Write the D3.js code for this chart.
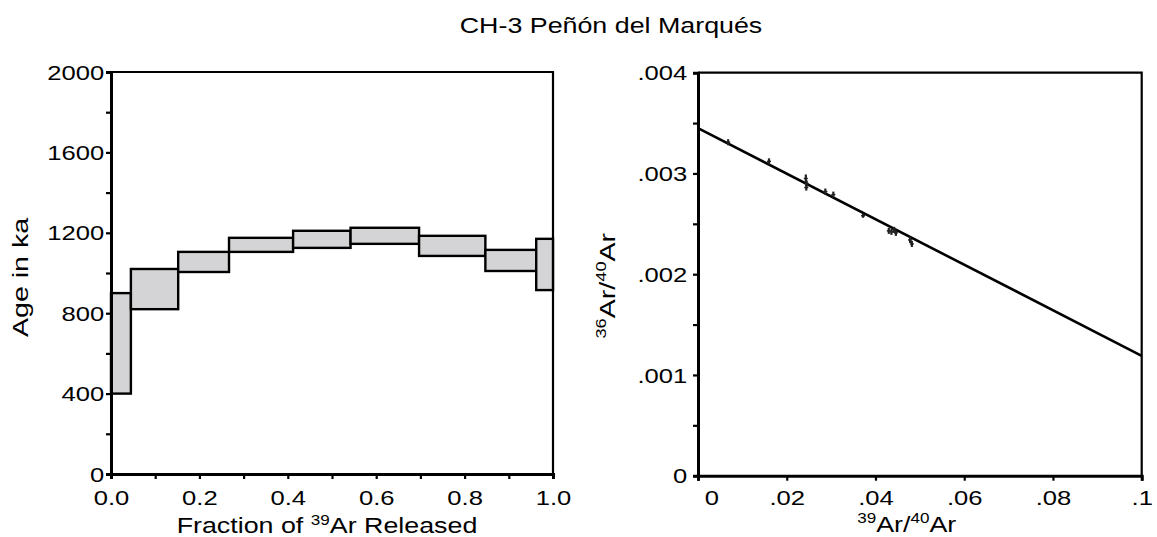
<!DOCTYPE html>
<html>
<head>
<meta charset="utf-8">
<script src="https://cdn.jsdelivr.net/npm/d3@7"></script>
<style>
  body { margin: 0; background: #fff; }
  svg text { font-family: "Liberation Sans", Arial, sans-serif; fill: #000; }
</style>
</head>
<body>
<div id="chart"></div>
<script>
// step-heating spectrum: fraction of 39Ar released (start, end), age (low, high) in ka
const stepStart = [0, 0.045, 0.152, 0.267, 0.412, 0.542, 0.697, 0.847, 0.962];
const stepEnd   = [0.045, 0.152, 0.267, 0.412, 0.542, 0.697, 0.847, 0.962, 1.0];
const ageLow    = [400, 820, 1005, 1105, 1125, 1145, 1085, 1010, 915];
const ageHigh   = [900, 1020, 1105, 1175, 1210, 1225, 1185, 1115, 1170];

// isochron points: 39Ar/40Ar, 36Ar/40Ar, error on 36Ar/40Ar
const isoX   = [0.0068, 0.0160, 0.0243, 0.0245, 0.0244, 0.0287, 0.0305, 0.0372, 0.0430, 0.0436, 0.0442, 0.0446, 0.0478, 0.0482];
const isoY   = [0.00331, 0.00312, 0.00295, 0.00290, 0.00286, 0.00282, 0.00279, 0.00258, 0.00243, 0.00242, 0.00244, 0.00241, 0.00234, 0.00230];
const isoErr = [0.00003, 0.00003, 0.00004, 0.00003, 0.00003, 0.00003, 0.00003, 0.00002, 0.00003, 0.00003, 0.00003, 0.00003, 0.00003, 0.00003];

// isochron regression line end points
const fitX = [0, 0.1];
const fitY = [0.00345, 0.00119];

const leftXTicks = [0, 0.1, 0.2, 0.3, 0.4, 0.5, 0.6, 0.7, 0.8, 0.9, 1.0];
const leftXLabels = ["0.0", "", "0.2", "", "0.4", "", "0.6", "", "0.8", "", "1.0"];
const leftYTicks = [0, 200, 400, 600, 800, 1000, 1200, 1400, 1600, 1800, 2000];
const leftYLabels = ["0", "", "400", "", "800", "", "1200", "", "1600", "", "2000"];
const rightXTicks = [0, 0.02, 0.04, 0.06, 0.08, 0.1];
const rightXLabels = ["0", ".02", ".04", ".06", ".08", ".1"];
const rightYTicks = [0, 0.0005, 0.001, 0.0015, 0.002, 0.0025, 0.003, 0.0035, 0.004];
const rightYLabels = ["0", "", ".001", "", ".002", "", ".003", "", ".004"];

const width = 1157, height = 537;
const svg = d3.select("#chart").append("svg")
  .attr("width", width).attr("height", height);

const xL = d3.scaleLinear().domain([0, 1]).range([111, 553]);
const yL = d3.scaleLinear().domain([0, 2000]).range([474, 72]);
const xR = d3.scaleLinear().domain([0, 0.1]).range([698, 1141.7]);
const yR = d3.scaleLinear().domain([0, 0.004]).range([475.7, 72.7]);

const SX = 1.22; // glyphs in the source are wider than Arial

// title
svg.append("text")
  .attr("transform", `translate(611,33) scale(${SX},1)`)
  .attr("text-anchor", "middle")
  .style("font-size", "22px")
  .text("CH-3 Peñón del Marqués");

function frame(x, y) {
  const [x0, x1] = x.range(), [y0, y1] = y.range();
  svg.append("path")
    .attr("d", `M${x0},${y1}H${x1}V${y0}`)
    .attr("fill", "none").attr("stroke", "#000").attr("stroke-width", 2.2);
}

function styleAxis(g, side, labels, off) {
  g.select(".domain").attr("stroke-width", 3);
  g.selectAll(".tick line").attr("stroke-width", 2.2);
  const t = g.selectAll(".tick text").style("font-size", "21px")
    .text((d, i) => labels[i]);
  if (side === "bottom") {
    t.attr("y", off).attr("dy", "0.71em")
      .attr("transform", `scale(${SX},1)`);
  } else {
    t.attr("x", off / SX).attr("dy", "0.34em")
      .attr("transform", `scale(${SX},1)`);
  }
}

// ---------- left panel: age spectrum ----------
frame(xL, yL);

svg.append("g").selectAll("rect")
  .data(stepStart.map((s, i) => ({ s, e: stepEnd[i], lo: ageLow[i], hi: ageHigh[i] })))
  .join("rect")
  .attr("x", d => xL(d.s))
  .attr("width", d => xL(d.e) - xL(d.s))
  .attr("y", d => yL(d.hi))
  .attr("height", d => yL(d.lo) - yL(d.hi))
  .attr("fill", "#d4d4d6")
  .attr("stroke", "#000")
  .attr("stroke-width", 2.4);

svg.append("g").attr("transform", `translate(0,${yL(0)})`)
  .call(d3.axisBottom(xL).tickValues(leftXTicks).tickSizeOuter(0).tickSize(5))
  .call(g => styleAxis(g, "bottom", leftXLabels, 16));

svg.append("g").attr("transform", `translate(${xL(0)},0)`)
  .call(d3.axisLeft(yL).tickValues(leftYTicks).tickSizeOuter(0).tickSize(5))
  .call(g => styleAxis(g, "left", leftYLabels, -6.7));

const xtL = svg.append("text")
  .attr("transform", `translate(327,533) scale(${SX},1)`)
  .attr("text-anchor", "middle")
  .style("font-size", "22px");
xtL.append("tspan").text("Fraction of ");
xtL.append("tspan").attr("dy", -8).style("font-size", "14px").text("39");
xtL.append("tspan").attr("dy", 8).text("Ar Released");

svg.append("text")
  .attr("transform", "translate(28,277.5) rotate(-90) scale(1.3,1)")
  .attr("text-anchor", "middle")
  .style("font-size", "22px")
  .text("Age in ka");

// ---------- right panel: isochron ----------
frame(xR, yR);

svg.append("line")
  .attr("x1", xR(fitX[0])).attr("y1", yR(fitY[0]))
  .attr("x2", xR(fitX[1])).attr("y2", yR(fitY[1]))
  .attr("stroke", "#000").attr("stroke-width", 2.6);

const pts = svg.append("g").selectAll("g")
  .data(isoX.map((x, i) => ({ x, y: isoY[i], e: isoErr[i] })))
  .join("g");
pts.append("line")
  .attr("x1", d => xR(d.x)).attr("x2", d => xR(d.x))
  .attr("y1", d => yR(d.y + d.e)).attr("y2", d => yR(d.y - d.e))
  .attr("stroke", "#222").attr("stroke-width", 2.2);
pts.append("line")
  .attr("x1", d => xR(d.x) - 2).attr("x2", d => xR(d.x) + 2)
  .attr("y1", d => yR(d.y)).attr("y2", d => yR(d.y))
  .attr("stroke", "#222").attr("stroke-width", 1.5);

svg.append("g").attr("transform", `translate(0,${yR(0)})`)
  .call(d3.axisBottom(xR).tickValues(rightXTicks).tickSizeOuter(0).tickSize(5))
  .call(g => styleAxis(g, "bottom", rightXLabels, 14.3))
  .call(g => g.selectAll(".tick text").filter(d => d === 0)
    .attr("x", 13.5 / SX));

svg.append("g").attr("transform", `translate(${xR(0)},0)`)
  .call(d3.axisLeft(yR).tickValues(rightYTicks).tickSizeOuter(0).tickSize(5))
  .call(g => styleAxis(g, "left", rightYLabels, -10.7));

const xtR = svg.append("text")
  .attr("transform", `translate(906.7,531.7) scale(${SX},1)`)
  .attr("text-anchor", "middle")
  .style("font-size", "22px");
xtR.append("tspan").attr("dy", -9).style("font-size", "14px").text("39");
xtR.append("tspan").attr("dy", 9).text("Ar/");
xtR.append("tspan").attr("dy", -9).style("font-size", "14px").text("40");
xtR.append("tspan").attr("dy", 9).text("Ar");

const ytR = svg.append("text")
  .attr("transform", "translate(615,285.7) rotate(-90) scale(1.3,1)")
  .attr("text-anchor", "middle")
  .style("font-size", "22px");
ytR.append("tspan").attr("dy", -9).style("font-size", "14px").text("36");
ytR.append("tspan").attr("dy", 9).text("Ar/");
ytR.append("tspan").attr("dy", -9).style("font-size", "14px").text("40");
ytR.append("tspan").attr("dy", 9).text("Ar");
</script>
</body>
</html>
